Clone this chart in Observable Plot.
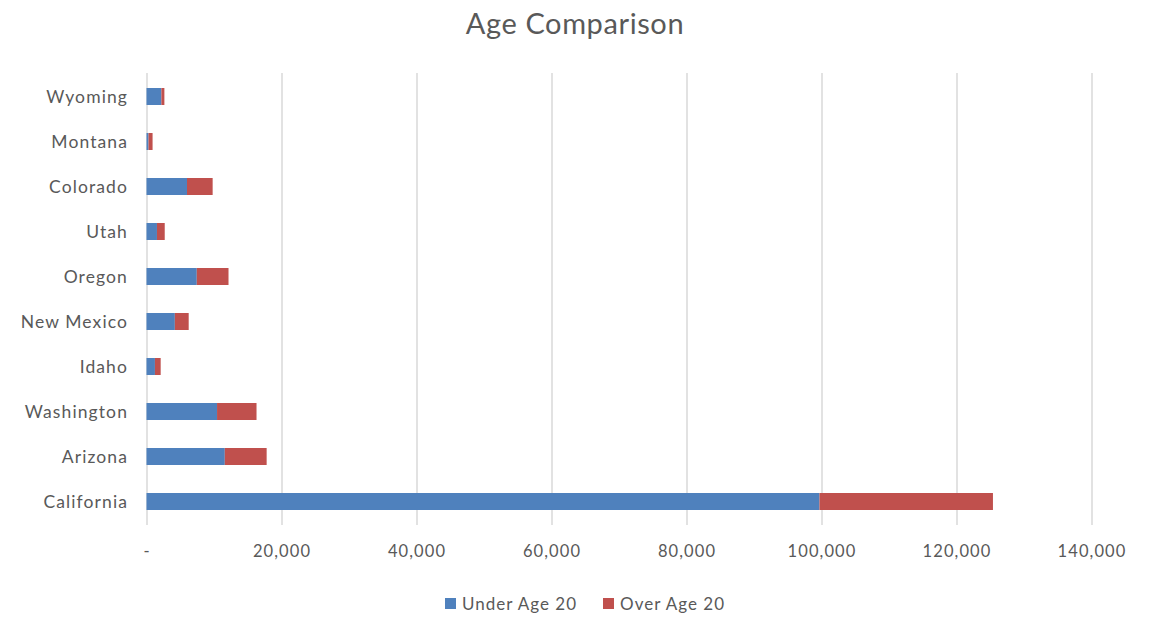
<!DOCTYPE html>
<html>
<head>
<meta charset="utf-8">
<script src="https://cdn.jsdelivr.net/npm/d3@7"></script>
<script src="https://cdn.jsdelivr.net/npm/@observablehq/plot@0.6"></script>
<style>
  html, body { margin: 0; padding: 0; background: #fff; }
  body { width: 1150px; height: 632px; overflow: hidden; font-family: Lato, "Open Sans", sans-serif; color: #595959; }
  #title { height: 50px; line-height: 46px; text-align: center; font-size: 29px; letter-spacing: 0.6px; color: #595959; }
  #chart svg { display: block; }
  #chart svg text { letter-spacing: 1.1px; }
  #legend { display: flex; justify-content: center; align-items: center; gap: 26px; font-size: 17px; letter-spacing: 1px; color: #595959; margin-top: 13px; padding-left: 20px; }
  .item { display: flex; align-items: center; gap: 6px; }
  .sw { width: 11px; height: 11px; display: inline-block; }
</style>
</head>
<body>
<div id="title">Age Comparison</div>
<div id="chart"></div>
<div id="legend"></div>
<script>
const states = ["Wyoming", "Montana", "Colorado", "Utah", "Oregon", "New Mexico", "Idaho", "Washington", "Arizona", "California"];
const underAge20 = [2200, 300, 6000, 1550, 7450, 4200, 1250, 10450, 11600, 99700];
const overAge20  = [450, 600, 3800, 1150, 4700, 2050, 850, 5850, 6200, 25700];
const seriesNames = ["Under Age 20", "Over Age 20"];
const seriesColors = ["#4F81BD", "#C0504D"];
const xTicks = [0, 20000, 40000, 60000, 80000, 100000, 120000, 140000];

const data = states.flatMap((s, i) => [
  {state: s, group: seriesNames[0], value: underAge20[i]},
  {state: s, group: seriesNames[1], value: overAge20[i]}
]);

const fmt = d3.format(",");
const chart = Plot.plot({
  width: 1150,
  height: 530,
  marginTop: 23,
  marginBottom: 55,
  marginLeft: 146.5,
  marginRight: 58.5,
  style: {fontFamily: "Lato, 'Open Sans', sans-serif", color: "#595959", background: "#fff"},
  x: {domain: [0, 140000]},
  y: {domain: states, paddingInner: 0.63, paddingOuter: 0.315},
  color: {domain: seriesNames, range: seriesColors},
  marks: [
    Plot.gridX(xTicks, {stroke: "#d9d9d9", strokeOpacity: 1, strokeWidth: 1.5}),
    Plot.barX(data, Plot.stackX({y: "state", x: "value", fill: "group", order: seriesNames})),
    Plot.axisX({ticks: xTicks, tickSize: 0, tickPadding: 20, fontSize: 16.5, tickFormat: d => d === 0 ? "-" : fmt(d), label: null}),
    Plot.axisY({tickSize: 0, tickPadding: 19, fontSize: 17.5, label: null})
  ]
});
document.getElementById("chart").appendChild(chart);

const legend = document.getElementById("legend");
seriesNames.forEach((n, i) => {
  const it = document.createElement("div");
  it.className = "item";
  const sw = document.createElement("span");
  sw.className = "sw";
  sw.style.background = seriesColors[i];
  const t = document.createElement("span");
  t.textContent = n;
  it.appendChild(sw); it.appendChild(t);
  legend.appendChild(it);
});
</script>
</body>
</html>
